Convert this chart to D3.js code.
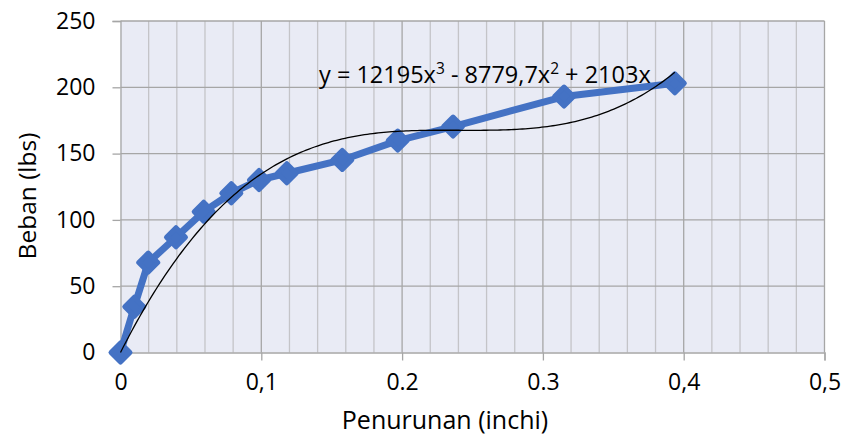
<!DOCTYPE html>
<meta charset="utf-8">
<script src="https://d3js.org/d3.v7.min.js"></script>
<style>
  body { margin: 0; background: #fff; }
  text { font-family: "Open Sans", "Noto Sans", sans-serif; fill: #000; }
</style>
<body>
<svg width="843" height="439"></svg>
<script>
    // measured data: deflection (inch) vs load (lbs)
    var penurunan = [0, 0.0098, 0.0197, 0.0394, 0.0591, 0.0787, 0.0984, 0.1181, 0.1575, 0.1969, 0.2362, 0.315, 0.3937];
    var beban     = [0, 34.5, 67.8, 86.9, 106.2, 120.1, 130.1, 135.2, 145.2, 159.8, 170.4, 193, 203];
    // polynomial trendline coefficients (x^3, x^2, x)
    var trendCoef = [12195, -8779.7, 2103];
    var xTicks      = [0, 0.1, 0.2, 0.3, 0.4, 0.5];
    var xTickLabels = ['0', '0,1', '0.2', '0.3', '0,4', '0,5'];
    var yTicks      = [0, 50, 100, 150, 200, 250];

    var svg = d3.select('svg');
    var m = {left: 120.5, right: 824.5, top: 21, bottom: 352.5};

    var x = d3.scaleLinear().domain([0, 0.5]).range([m.left, m.right]);
    var y = d3.scaleLinear().domain([0, 250]).range([m.bottom, m.top]);

    svg.append('rect')
        .attr('x', m.left).attr('y', m.top)
        .attr('width', m.right - m.left).attr('height', m.bottom - m.top)
        .attr('fill', '#e9ebf5');

    // minor vertical gridlines
    svg.append('g').selectAll('line')
        .data(d3.range(1, 25).filter(function(i){ return i % 5 !== 0; }).map(function(i){ return i * 0.02; }))
        .enter().append('line')
        .attr('x1', function(d){ return x(d); }).attr('x2', function(d){ return x(d); })
        .attr('y1', m.top).attr('y2', m.bottom)
        .attr('stroke', '#c4c4c8').attr('stroke-width', 1.3);

    // major vertical gridlines
    svg.append('g').selectAll('line')
        .data(xTicks.slice(1))
        .enter().append('line')
        .attr('x1', function(d){ return x(d); }).attr('x2', function(d){ return x(d); })
        .attr('y1', m.top).attr('y2', m.bottom)
        .attr('stroke', '#a6a6a6').attr('stroke-width', 1.3);

    // horizontal gridlines
    svg.append('g').selectAll('line')
        .data(yTicks.slice(1))
        .enter().append('line')
        .attr('x1', m.left).attr('x2', m.right)
        .attr('y1', function(d){ return y(d); }).attr('y2', function(d){ return y(d); })
        .attr('stroke', '#a6a6a6').attr('stroke-width', 1.3);

    // axes
    var xAxis = d3.axisBottom(x).tickValues(xTicks)
        .tickFormat(function(d, i){ return xTickLabels[i]; })
        .tickSize(8).tickPadding(13);
    var gx = svg.append('g').attr('transform', 'translate(0,' + m.bottom + ')').call(xAxis);

    var yAxis = d3.axisLeft(y).tickValues(yTicks).tickSize(8).tickPadding(17);
    var gy = svg.append('g').attr('transform', 'translate(' + m.left + ',0)').call(yAxis);

    [gx, gy].forEach(function(g){
        g.select('.domain').attr('stroke', '#a6a6a6').attr('stroke-width', 1.3);
        g.selectAll('.tick line').attr('stroke', '#a6a6a6').attr('stroke-width', 1.3);
        g.selectAll('.tick text').attr('font-size', 23).attr('font-family', '"Open Sans", sans-serif').attr('fill', '#000');
    });

    // axis titles
    svg.append('text')
        .attr('x', 445).attr('y', 429)
        .attr('text-anchor', 'middle').attr('font-size', 25)
        .text('Penurunan (inchi)');
    svg.append('text')
        .attr('transform', 'translate(36,196) rotate(-90)')
        .attr('text-anchor', 'middle').attr('font-size', 24.5)
        .text('Beban (lbs)');

    // data line + markers
    var pts = penurunan.map(function(d, i){ return [d, beban[i]]; });
    var line = d3.line().x(function(d){ return x(d[0]); }).y(function(d){ return y(d[1]); });

    svg.append('path')
        .datum(pts)
        .attr('fill', 'none')
        .attr('stroke', '#4472c4')
        .attr('stroke-width', 7)
        .attr('stroke-linejoin', 'round')
        .attr('d', line);

    var r = 9.5;
    svg.append('g').selectAll('path')
        .data(pts)
        .enter().append('path')
        .attr('transform', function(d){ return 'translate(' + x(d[0]) + ',' + y(d[1]) + ')'; })
        .attr('d', 'M0,' + (-r) + 'L' + r + ',0L0,' + r + 'L' + (-r) + ',0Z')
        .attr('fill', '#4472c4')
        .attr('stroke', '#4472c4')
        .attr('stroke-width', 5)
        .attr('stroke-linejoin', 'round');

    // polynomial trendline over the data range
    var poly = function(v){ return trendCoef[0] * v * v * v + trendCoef[1] * v * v + trendCoef[2] * v; };
    var xmax = d3.max(penurunan);
    var trend = d3.range(0, 201).map(function(i){ var v = xmax * i / 200; return [v, poly(v)]; });
    svg.append('path')
        .datum(trend)
        .attr('fill', 'none')
        .attr('stroke', '#000')
        .attr('stroke-width', 1.3)
        .attr('d', line);

    // equation label
    var eq = svg.append('text').attr('x', 319).attr('y', 83).attr('font-size', 23.5);
    eq.append('tspan').text('y = 12195x');
    eq.append('tspan').attr('dy', -9).attr('font-size', 15.5).text('3');
    eq.append('tspan').attr('dy', 9).text(' - 8779,7x');
    eq.append('tspan').attr('dy', -9).attr('font-size', 15.5).text('2');
    eq.append('tspan').attr('dy', 9).text(' + 2103x');
</script>
</body>
